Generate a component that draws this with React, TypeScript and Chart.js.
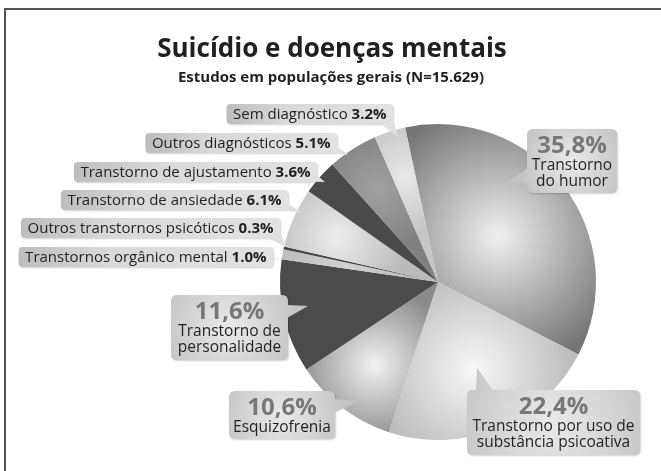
import React, { useEffect, useRef } from "react";
import { Chart, registerables } from "chart.js";

Chart.register(...registerables);

// ---------- data ----------
const categories = [
  "Transtorno do humor",
  "Transtorno por uso de substância psicoativa",
  "Esquizofrenia",
  "Transtorno de personalidade",
  "Transtornos orgânico mental",
  "Outros transtornos psicóticos",
  "Transtorno de ansiedade",
  "Transtorno de ajustamento",
  "Outros diagnósticos",
  "Sem diagnóstico",
];
const values = [35.8, 22.4, 10.6, 11.6, 1.0, 0.3, 6.1, 3.6, 5.1, 3.2];
const titleText = "Suicídio e doenças mentais";
const subtitleText = "Estudos em populações gerais (N=15.629)";
// multi-line captions for the big callouts
const bigCaptions: Record<number, string[]> = {
  0: ["Transtorno", "do humor"],
  1: ["Transtorno por uso de", "substância psicoativa"],
  2: ["Esquizofrenia"],
  3: ["Transtorno de", "personalidade"],
};

// ---------- styles ----------
const ROTATION = -12;
// [center colour, edge colour, gradient centre as fraction of radius, gradient radius fraction]
const sliceStyles: [string, string, number, number][] = [
  ["#f0f0f0", "#747474", 0.48, 0.85],
  ["#f8f8f8", "#bdbdbd", 0.6, 0.62],
  ["#f2f2f2", "#8a8a8a", 0.66, 0.5],
  ["#4b4b4b", "#4b4b4b", 0.5, 0.6],
  ["#d2d2d2", "#b8b8b8", 0.6, 0.5],
  ["#474747", "#474747", 0.6, 0.5],
  ["#ededed", "#bababa", 0.7, 0.45],
  ["#4a4a4a", "#4a4a4a", 0.6, 0.5],
  ["#a2a2a2", "#808080", 0.7, 0.4],
  ["#e8e8e8", "#c6c6c6", 0.7, 0.35],
];

const FONT = "'Open Sans', 'Noto Sans', sans-serif";

// small callouts (left side): box right edge, top, tail tip
const smallLayout = [
  { index: 9, right: 393, top: 104, tip: [398, 137] },
  { index: 8, right: 337, top: 133, tip: [348, 155] },
  { index: 7, right: 317, top: 162, tip: [325, 182] },
  { index: 6, right: 288, top: 190, tip: [302, 213] },
  { index: 5, right: 280, top: 218, tip: [286, 247] },
  { index: 4, right: 273, top: 247, tip: [284, 256] },
];
// big callouts: box + tail triangle
const bigLayout = [
  { index: 0, left: 527, top: 129, w: 90, h: 64, tail: [[527, 169], [507, 182], [527, 184]] },
  { index: 3, left: 171, top: 295, w: 117, h: 65, tail: [[287, 305], [308, 306], [287, 318]] },
  { index: 2, left: 229, top: 391, w: 106, h: 48, tail: [[334, 399], [359, 401], [334, 413]] },
  { index: 1, left: 467, top: 390, w: 173, h: 65, tail: [[476, 392], [477, 368], [494, 392]] },
];

function rr(ctx: CanvasRenderingContext2D, x: number, y: number, w: number, h: number, r: number) {
  ctx.beginPath();
  ctx.moveTo(x + r, y);
  ctx.lineTo(x + w - r, y);
  ctx.quadraticCurveTo(x + w, y, x + w, y + r);
  ctx.lineTo(x + w, y + h - r);
  ctx.quadraticCurveTo(x + w, y + h, x + w - r, y + h);
  ctx.lineTo(x + r, y + h);
  ctx.quadraticCurveTo(x, y + h, x, y + h - r);
  ctx.lineTo(x, y + r);
  ctx.quadraticCurveTo(x, y, x + r, y);
  ctx.closePath();
}

function tri(ctx: CanvasRenderingContext2D, pts: number[][]) {
  ctx.beginPath();
  ctx.moveTo(pts[0][0], pts[0][1]);
  ctx.lineTo(pts[1][0], pts[1][1]);
  ctx.lineTo(pts[2][0], pts[2][1]);
  ctx.closePath();
}

const fmtDot = (v: number) => v.toFixed(1) + "%";
const fmtComma = (v: number) => v.toFixed(1).replace(".", ",") + "%";

const decorPlugin = {
  id: "decor",
  afterDraw(chart: any) {
    const ctx: CanvasRenderingContext2D = chart.ctx;
    ctx.save();
    // frame
    ctx.fillStyle = "#555555";
    ctx.fillRect(4, 8, 2, 471);
    ctx.fillRect(4, 8, 661, 2);

    // titles
    ctx.fillStyle = "#231f20";
    ctx.textAlign = "center";
    ctx.textBaseline = "alphabetic";
    ctx.font = `bold 26px ${FONT}`;
    ctx.fillText(titleText, 332, 57);
    ctx.font = `bold 15px ${FONT}`;
    ctx.fillText(subtitleText, 331, 82);

    // small callouts
    const H = 20;
    for (const l of smallLayout) {
      const v = values[l.index];
      const name = categories[l.index] + " ";
      const pct = fmtDot(v);
      ctx.font = `15px ${FONT}`;
      const w1 = ctx.measureText(name).width;
      ctx.font = `bold 15px ${FONT}`;
      const w2 = ctx.measureText(pct).width;
      const w = w1 + w2 + 13;
      const left = l.right - w;
      const g = ctx.createLinearGradient(left, 0, l.right, 0);
      g.addColorStop(0, "#bdbdbd");
      g.addColorStop(0.35, "#d9d9d9");
      g.addColorStop(1, "#e2e2e2");
      ctx.fillStyle = g;
      ctx.shadowColor = "rgba(0,0,0,0.18)";
      ctx.shadowBlur = 2;
      ctx.shadowOffsetX = 1;
      ctx.shadowOffsetY = 1;
      rr(ctx, left, l.top, w, H, 4);
      ctx.fill();
      ctx.shadowColor = "transparent";
      ctx.fillStyle = "#e0e0e0";
      tri(ctx, [[l.right - 13, l.top + H - 0.5], l.tip, [l.right - 0.5, l.top + H - 7]]);
      ctx.fill();
      ctx.fillStyle = "#231f20";
      ctx.textAlign = "left";
      ctx.textBaseline = "middle";
      ctx.font = `15px ${FONT}`;
      ctx.fillText(name, left + 6.5, l.top + H / 2 + 0.5);
      ctx.font = `bold 15px ${FONT}`;
      ctx.fillText(pct, left + 6.5 + w1, l.top + H / 2 + 0.5);
    }

    // big callouts
    for (const b of bigLayout) {
      const cx = b.left + b.w / 2;
      const g = ctx.createRadialGradient(cx, b.top + b.h / 2, 0, cx, b.top + b.h / 2, Math.max(b.w, b.h) * 0.62);
      g.addColorStop(0, "#eaeaea");
      g.addColorStop(1, "#c2c2c2");
      ctx.fillStyle = g;
      ctx.shadowColor = "rgba(0,0,0,0.18)";
      ctx.shadowBlur = 2;
      ctx.shadowOffsetX = 1;
      ctx.shadowOffsetY = 1;
      rr(ctx, b.left, b.top, b.w, b.h, 6);
      ctx.fill();
      ctx.shadowColor = "transparent";
      ctx.fillStyle = g;
      tri(ctx, b.tail);
      ctx.fill();

      const lines = bigCaptions[b.index];
      ctx.textAlign = "center";
      ctx.textBaseline = "alphabetic";
      ctx.fillStyle = "#777777";
      ctx.font = `bold 24px ${FONT}`;
      ctx.fillText(fmtComma(values[b.index]), cx, b.top + 24);
      ctx.fillStyle = "#231f20";
      ctx.font = `15.5px ${FONT}`;
      lines.forEach((t, i) => ctx.fillText(t, cx, b.top + 41 + i * 16));
    }
    ctx.restore();
  },
};

function sliceFill(c: any) {
  const i = c.dataIndex;
  if (i === undefined || i === null) return "#999999";
  const st = sliceStyles[i];
  const area = c.chart.chartArea;
  if (!area) return st[1];
  const cx = (area.left + area.right) / 2;
  const cy = (area.top + area.bottom) / 2;
  const r = Math.min(area.right - area.left, area.bottom - area.top) / 2;
  const total = values.reduce((a, b) => a + b, 0);
  let start = 0;
  for (let k = 0; k < i; k++) start += values[k];
  const mid = start + values[i] / 2;
  const ang = ((-90 + ROTATION) * Math.PI) / 180 + (mid / total) * Math.PI * 2;
  const gx = cx + Math.cos(ang) * r * st[2];
  const gy = cy + Math.sin(ang) * r * st[2];
  const g = c.chart.ctx.createRadialGradient(gx, gy, 0, gx, gy, r * st[3]);
  g.addColorStop(0, st[0]);
  g.addColorStop(1, st[1]);
  return g;
}

export default function App() {
  const ref = useRef<HTMLCanvasElement | null>(null);
  useEffect(() => {
    if (!ref.current) return;
    const chart = new Chart(ref.current, {
      type: "pie",
      data: {
        labels: categories,
        datasets: [
          {
            data: values,
            backgroundColor: sliceFill as any,
            borderWidth: 0,
          },
        ],
      },
      options: {
        responsive: false,
        animation: false,
        rotation: ROTATION,
        layout: { padding: { left: 280, right: 65, top: 124, bottom: 31 } },
        plugins: {
          legend: { display: false },
          title: { display: false },
          tooltip: { enabled: false },
        },
      },
      plugins: [decorPlugin],
    });
    return () => chart.destroy();
  }, []);
  return (
    <div style={{ position: "fixed", left: 0, top: 0, width: 661, height: 471, background: "#ffffff" }}>
      <canvas ref={ref} width={661} height={471} style={{ display: "block" }} />
    </div>
  );
}
